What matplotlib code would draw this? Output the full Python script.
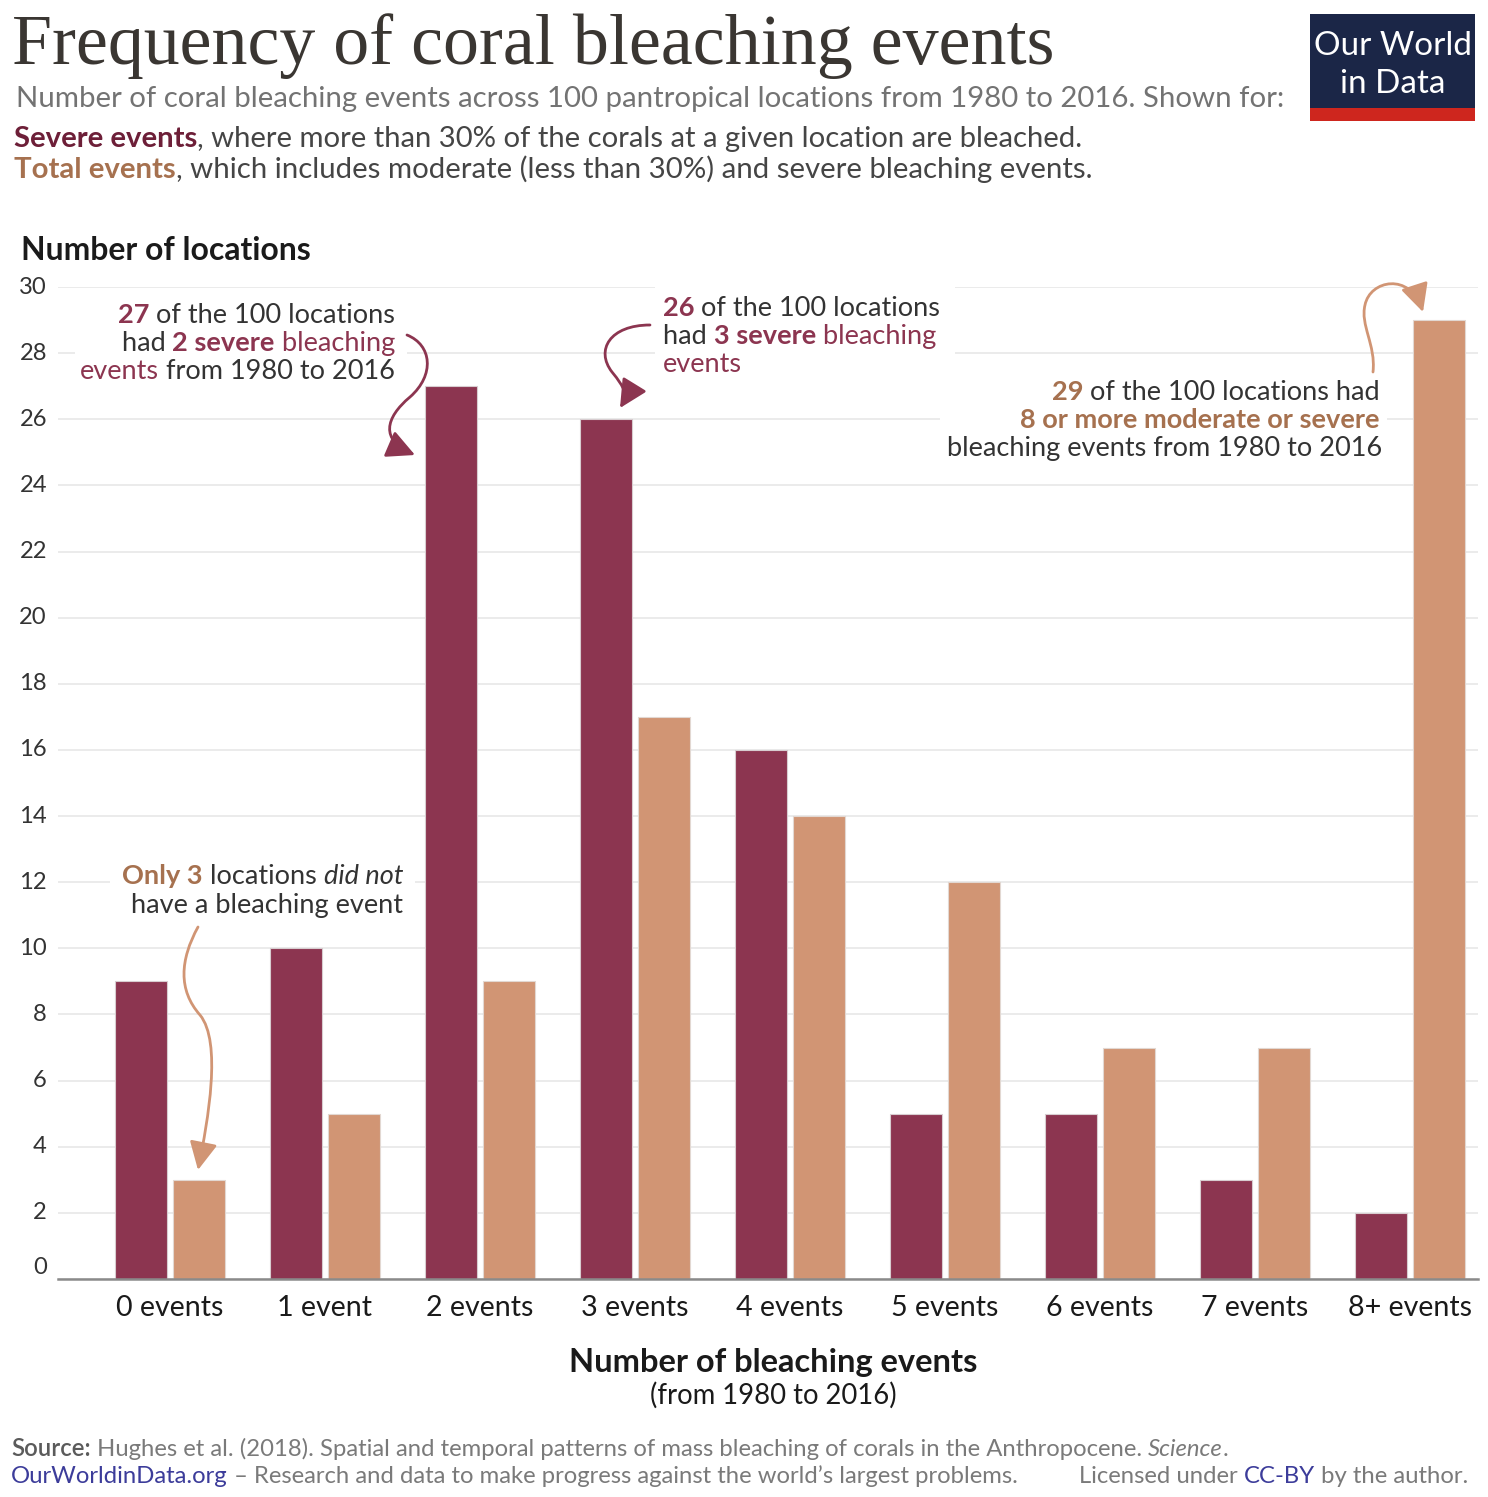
import matplotlib
matplotlib.use('Agg')
import matplotlib.pyplot as plt
import numpy as np
from matplotlib.transforms import Affine2D, blended_transform_factory
from matplotlib.patches import Rectangle, FancyArrowPatch
from matplotlib.path import Path

categories = ['0 events', '1 event', '2 events', '3 events', '4 events',
              '5 events', '6 events', '7 events', '8+ events']
severe = [9, 10, 27, 26, 16, 5, 5, 3, 2]
total = [3, 5, 9, 17, 14, 12, 7, 7, 29]
yticks = list(range(0, 31, 2))

W, H = 1488, 1497
SEVERE = '#8c3550'
TOTAL = '#d19574'
RED = '#8c3550'
TAN = '#a6714f'
DARK = '#333333'
GRAY = '#7a7a7a'
BLUE = '#3c3c9a'

plt.rcParams['font.family'] = ['Lato', 'DejaVu Sans']

fig = plt.figure(figsize=(W / 100, H / 100), dpi=100)
# pixel coordinates measured from the top-left corner of the picture
P = Affine2D().scale(1 / W, -1 / H).translate(0, 1) + fig.transFigure
r = fig.canvas.get_renderer()


def norm(parts):
    return [list(p) + ['normal'] * (4 - len(p)) for p in parts]


def seg_width(s, size, weight='normal', style='normal', family='Lato'):
    kw = dict(fontsize=size, fontweight=weight, fontstyle=style, family=family)
    a = fig.text(0, 0, '|' + s + '|', **kw)
    b = fig.text(0, 0, '||', **kw)
    w = a.get_window_extent(r).width - b.get_window_extent(r).width
    a.remove()
    b.remove()
    return w


def fit(parts, width, family='Lato', base=20):
    tot = sum(seg_width(t, base, w, st, family) for t, c, w, st in norm(parts))
    return base * width / tot


def rich(x, y, parts, size, ha='left', family='Lato'):
    parts = norm(parts)
    ws = [seg_width(t, size, w, st, family) for t, c, w, st in parts]
    tot = sum(ws)
    x0 = {'left': x, 'right': x - tot, 'center': x - tot / 2}[ha]
    for (t, c, w, st), wd in zip(parts, ws):
        fig.text(x0, y, t, transform=P, fontsize=size, color=c, fontweight=w,
                 fontstyle=st, family=family, va='baseline', ha='left', zorder=3)
        x0 += wd


def box(x, y, w, h, color='white', z=1):
    fig.add_artist(Rectangle((x, y), w, h, transform=P, facecolor=color,
                             edgecolor='none', zorder=z))


def arrow(verts, color):
    codes = [Path.MOVETO] + [Path.CURVE4] * (len(verts) - 1)
    fig.add_artist(FancyArrowPatch(path=Path(verts, codes), transform=P,
                                   arrowstyle='-|>,head_length=0.9,head_width=0.45',
                                   mutation_scale=19, color=color, lw=2.0, zorder=2))


# chart
ax = fig.add_axes([58 / W, 1 - 1279 / H, (1478 - 58) / W, (1279 - 287) / H])
x = np.arange(len(categories))
bw, off = 0.335, 0.187
ax.bar(x - off, severe, bw, color=SEVERE, edgecolor='#d8cdd0', linewidth=0.8, zorder=2)
ax.bar(x + off, total, bw, color=TOTAL, edgecolor='#e2d8d2', linewidth=0.8, zorder=2)
ax.set_xlim(-0.721, 8.44)
ax.set_ylim(0, 30)
ax.set_yticks(yticks)
ax.set_xticks(x)
ax.yaxis.grid(True, color='#e6e6e6', lw=1.1)
ax.set_axisbelow(True)
ax.tick_params(length=0, labelleft=False, labelbottom=False)
for s in ['top', 'right', 'left']:
    ax.spines[s].set_visible(False)
ax.spines['bottom'].set_color('#8a8a8a')
ax.spines['bottom'].set_linewidth(1.8)
ax.spines['bottom'].set_zorder(3)

ys = fit([('30', DARK)], 27.5)
for v in yticks:
    ax.annotate(str(v), xy=(0, v), xycoords=ax.get_yaxis_transform(),
                xytext=(-8, 8 if v == 0 else 0), textcoords='offset points',
                ha='right', va='center', fontsize=ys, color=DARK)

xs = fit([('0 events', '#1a1a1a')], 108)
xt = blended_transform_factory(ax.transData, P)
for xi, lab in zip(x, categories):
    fig.text(xi, 1316, lab, transform=xt, ha='center', va='baseline',
             fontsize=xs, color='#1a1a1a')

# header
title = [('Frequency of coral bleaching events', '#3a3632')]
rich(12, 64, title, fit(title, 1041, 'Liberation Serif'), family='Liberation Serif')
sub = [('Number of coral bleaching events across 100 pantropical locations from 1980 to 2016. Shown for:', '#737373')]
rich(16, 107, sub, fit(sub, 1269))
l2 = [('Severe events', '#6d1f38', 'bold'),
      (', where more than 30% of the corals at a given location are bleached.', '#454545')]
rich(14, 147, l2, fit(l2, 1072))
l3 = [('Total events', TAN, 'bold'),
      (', which includes moderate (less than 30%) and severe bleaching events.', '#454545')]
rich(14, 178, l3, fit(l3, 1079))

# logo
box(1310, 14, 165, 95, '#1b2647', 4)
box(1310, 108, 165, 13, '#ce261e', 4)
logo = fit([('Our World', 'white')], 158)
fig.text(1392.5, 55, 'Our World', transform=P, ha='center', va='baseline', fontsize=logo, color='white', zorder=5)
fig.text(1392.5, 93, 'in Data', transform=P, ha='center', va='baseline', fontsize=logo, color='white', zorder=5)

ylab = [('Number of locations', '#1a1a1a', 'bold')]
rich(21, 260, ylab, fit(ylab, 289))

# annotations
asz = fit([('27', RED, 'bold'), (' of the 100 locations', DARK)], 278)

box(75, 293, 332, 95)
rich(395, 323, [('27', RED, 'bold'), (' of the 100 locations', DARK)], asz, 'right')
rich(395, 351, [('had ', DARK), ('2 severe', RED, 'bold'), (' bleaching', RED)], asz, 'right')
rich(395, 379, [('events', RED), (' from 1980 to 2016', DARK)], asz, 'right')
arrow([(407, 335), (432, 345), (435, 375), (410, 397),
       (385, 418), (380, 440), (415, 455)], RED)

box(655, 283, 300, 97)
rich(663, 316, [('26', RED, 'bold'), (' of the 100 locations', DARK)], asz)
rich(663, 344, [('had ', DARK), ('3 severe', RED, 'bold'), (' bleaching', RED)], asz)
rich(663, 372, [('events', RED)], asz)
arrow([(650, 325), (610, 325), (595, 350), (612, 372),
       (625, 388), (628, 395), (620, 408)], RED)

box(940, 380, 447, 86)
rich(1380, 400, [('29', TAN, 'bold'), (' of the 100 locations had', DARK)], asz, 'right')
rich(1380, 428, [('8 or more moderate or severe', TAN, 'bold')], asz, 'right')
rich(1382, 456, [('bleaching events from 1980 to 2016', DARK)], asz, 'right')
arrow([(1373, 372), (1376, 345), (1360, 325), (1365, 305),
       (1370, 280), (1410, 272), (1423, 312)], TOTAL)

box(110, 857, 305, 66)
rich(403, 884, [('Only 3', TAN, 'bold'), (' locations ', DARK), ('did not', DARK, 'normal', 'italic')], asz, 'right')
rich(403, 913, [('have a bleaching event', DARK)], asz, 'right')
arrow([(198, 927), (180, 960), (178, 990), (200, 1015),
       (222, 1042), (208, 1120), (198, 1170)], TOTAL)

# x axis title
xl = [('Number of bleaching events', '#1a1a1a', 'bold')]
rich(773, 1372, xl, fit(xl, 409), 'center')
xl2 = [('(from 1980 to 2016)', '#1a1a1a')]
rich(773, 1404, xl2, fit(xl2, 247), 'center')

# footer
f1 = [('Source:', '#5b5b5b', 'semibold'),
      (' Hughes et al. (2018). Spatial and temporal patterns of mass bleaching of corals in the Anthropocene. ', GRAY),
      ('Science', GRAY, 'normal', 'italic'), ('.', GRAY)]
fsz = fit(f1, 1219)
rich(11, 1456, f1, fsz)
rich(11, 1483, [('OurWorldinData.org', BLUE),
                (' – Research and data to make progress against the world’s largest problems.', GRAY)], fsz)
rich(1468, 1483, [('Licensed under ', GRAY), ('CC-BY', BLUE), (' by the author.', GRAY)], fsz, 'right')

fig.savefig('out.png', dpi=100, facecolor='white')
